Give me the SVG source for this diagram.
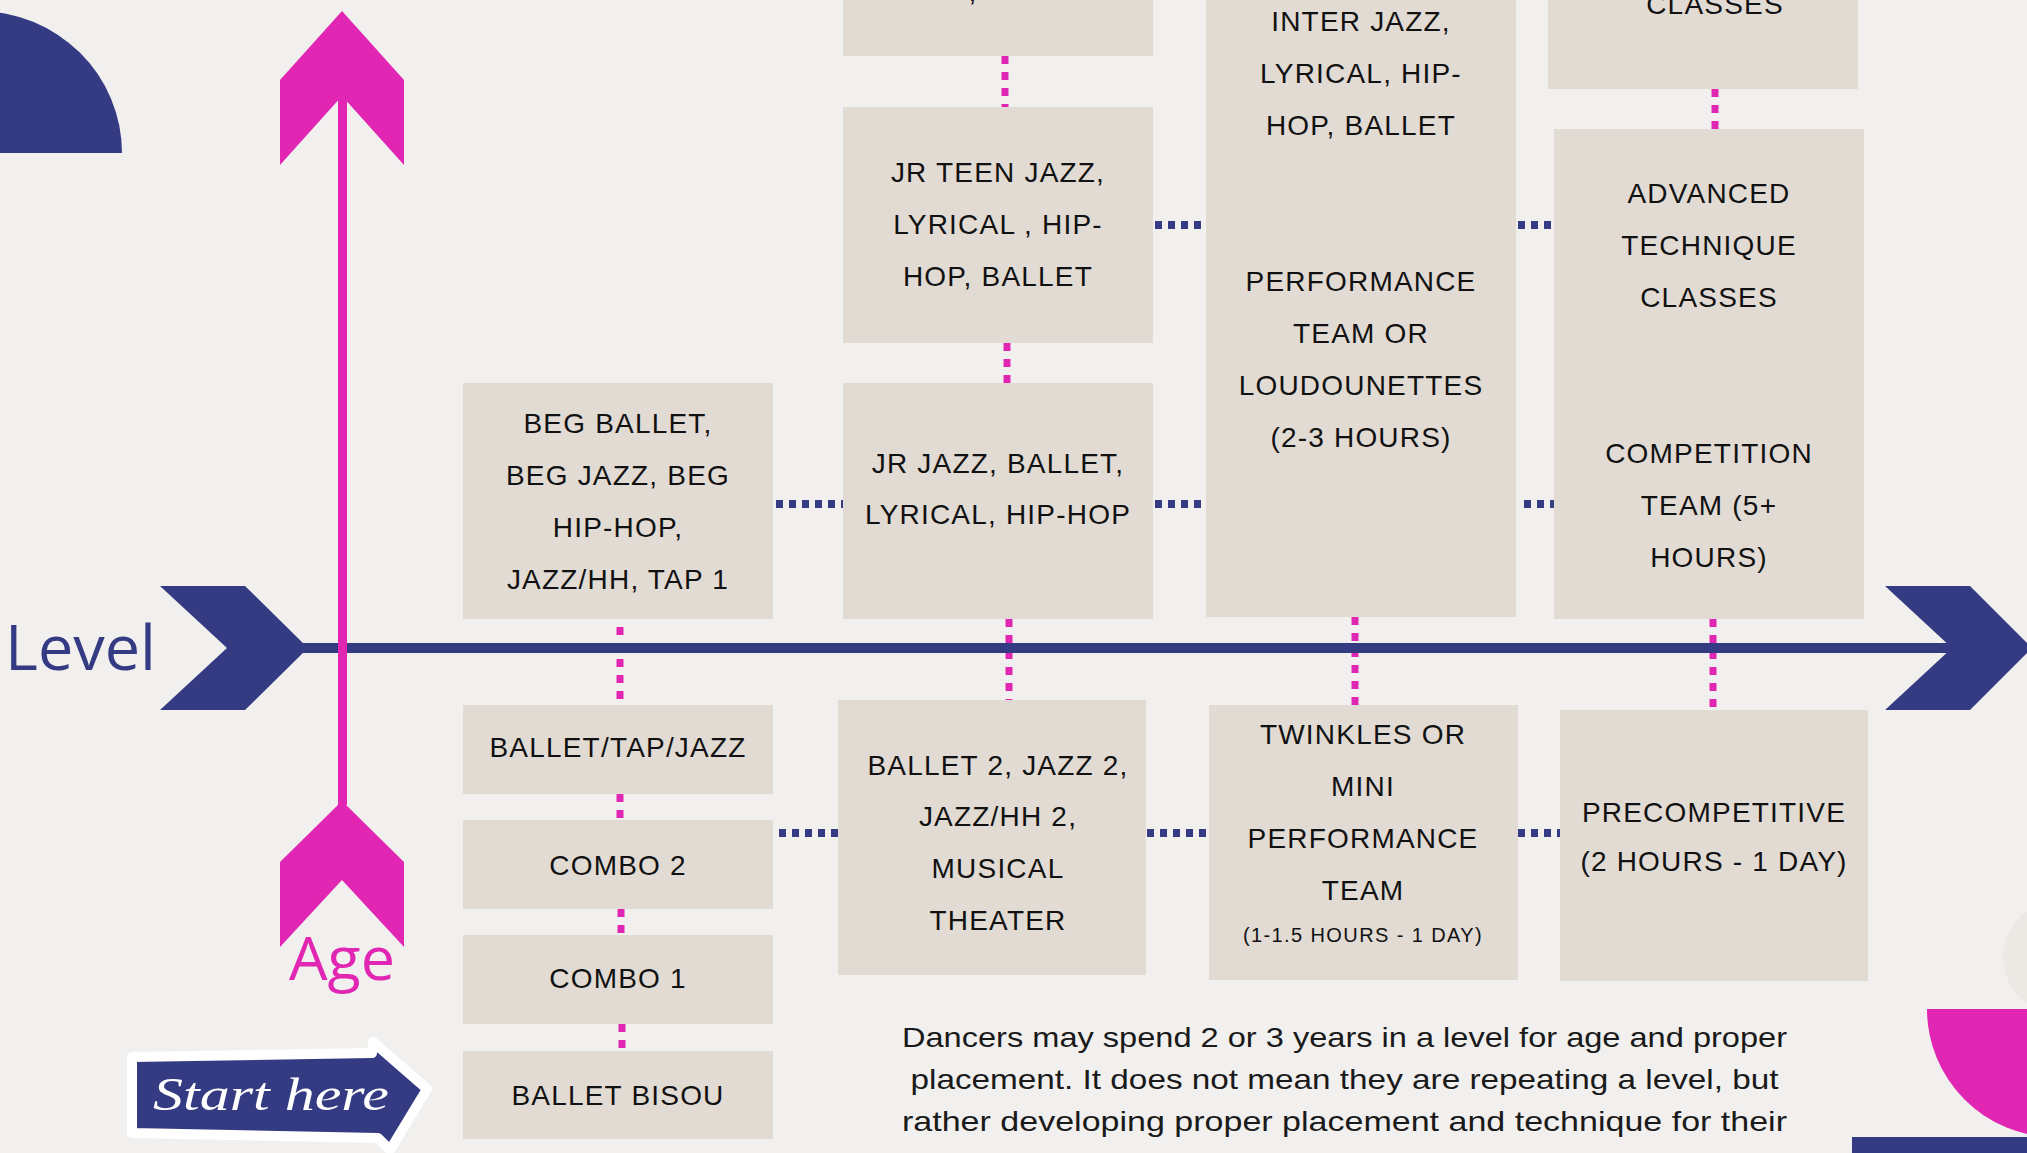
<svg xmlns="http://www.w3.org/2000/svg" width="2027" height="1153" viewBox="0 0 2027 1153">
<style>
.box{fill:#e1dbd4}
.t{font-family:"Liberation Sans",Arial,sans-serif;font-size:28px;letter-spacing:1.2px;fill:#111;text-anchor:middle}
.ts{font-family:"Liberation Sans",Arial,sans-serif;font-size:20px;letter-spacing:1.4px;fill:#111;text-anchor:middle}
.pk{stroke:#e126b3;stroke-width:7;stroke-dasharray:8 8;fill:none}
.nv{stroke:#343b83;stroke-width:8;stroke-dasharray:7 6;fill:none}
.para{font-family:"Liberation Sans",Arial,sans-serif;font-size:28px;fill:#1a1a1a;text-anchor:middle}
</style>
<rect x="0" y="0" width="2027" height="1153" fill="#f1f0ee"/>
<g id="decor">
<path d="M -166 153 A 144 142 0 0 1 122 153 Z" fill="#343b83"/>
<circle cx="2059" cy="957" r="56" fill="#ece8e4"/>
<path d="M 1927 1009 A 128 128 0 0 0 2183 1009 Z" fill="#e126b3"/>
<rect x="1852" y="1137" width="180" height="20" fill="#343b83"/>
</g>
<g id="connectors">
<line class="pk" x1="620" y1="611" x2="620" y2="705"/>
<line class="pk" x1="620" y1="794" x2="620" y2="820"/>
<line class="pk" x1="621" y1="909" x2="621" y2="935"/>
<line class="pk" x1="622" y1="1024" x2="622" y2="1051"/>
<line class="pk" x1="1005" y1="56" x2="1005" y2="107"/>
<line class="pk" x1="1007" y1="343" x2="1007" y2="383"/>
<line class="pk" x1="1009" y1="619" x2="1009" y2="700"/>
<line class="pk" x1="1355" y1="617" x2="1355" y2="705"/>
<line class="pk" x1="1715" y1="89" x2="1715" y2="129"/>
<line class="pk" x1="1713" y1="619" x2="1713" y2="710"/>
<line class="nv" x1="1155" y1="225" x2="1206" y2="225"/>
<line class="nv" x1="1518" y1="225" x2="1554" y2="225"/>
<line class="nv" x1="776" y1="504" x2="843" y2="504"/>
<line class="nv" x1="1155" y1="504" x2="1206" y2="504"/>
<line class="nv" x1="1524" y1="504" x2="1554" y2="504"/>
<line class="nv" x1="779" y1="833" x2="838" y2="833"/>
<line class="nv" x1="1147" y1="833" x2="1209" y2="833"/>
<line class="nv" x1="1518" y1="833" x2="1560" y2="833"/>
</g>
<g id="level-axis">
<line x1="300" y1="648" x2="1955" y2="648" stroke="#343b83" stroke-width="10"/>
<polygon points="160,586 245,586 308,648 245,710 160,710 227,648" fill="#343b83"/>
<polygon points="1885,586 1970,586 2032,648 1970,710 1885,710 1952,648" fill="#343b83"/>
<text x="5" y="670" font-family="'Open Sans','Noto Sans',sans-serif" font-size="63" fill="#343b83">Level</text>
</g>
<g id="age-axis">
<line x1="342.5" y1="90" x2="342.5" y2="805" stroke="#e126b3" stroke-width="9"/>
<polygon points="342,11 404,80 404,165 342,96 280,165 280,80" fill="#e126b3"/>
<polygon points="342,801 404,862 404,947 342,880 280,947 280,862" fill="#e126b3"/>
<text x="342" y="980" font-family="'Open Sans','Noto Sans',sans-serif" font-size="61" fill="#e126b3" text-anchor="middle">Age</text>
</g>
<g id="start-here">
<path d="M132,1057 L372,1053 L373,1042 L427,1089 L390,1150 L378,1138 L132,1133 Z" fill="#343b83" stroke="#ffffff" stroke-width="10" stroke-linejoin="round"/>
<text x="153" y="1110" font-family="'Liberation Serif','DejaVu Serif',serif" font-style="italic" font-size="46" fill="#ffffff" textLength="236" lengthAdjust="spacingAndGlyphs">Start here</text>
</g>
<g id="beg-ballet">
<rect class="box" x="463" y="383" width="310" height="236"/>
<text class="t" x="618" y="433">BEG BALLET,</text>
<text class="t" x="618" y="485">BEG JAZZ, BEG</text>
<text class="t" x="618" y="537">HIP-HOP,</text>
<text class="t" x="618" y="589">JAZZ/HH, TAP 1</text>
</g>
<g id="ballet-tap-jazz">
<rect class="box" x="463" y="705" width="310" height="89"/>
<text class="t" x="618" y="757">BALLET/TAP/JAZZ</text>
</g>
<g id="combo-2">
<rect class="box" x="463" y="820" width="310" height="89"/>
<text class="t" x="618" y="875">COMBO 2</text>
</g>
<g id="combo-1">
<rect class="box" x="463" y="935" width="310" height="89"/>
<text class="t" x="618" y="988">COMBO 1</text>
</g>
<g id="ballet-bisou">
<rect class="box" x="463" y="1051" width="310" height="88"/>
<text class="t" x="618" y="1105">BALLET BISOU</text>
</g>
<g id="col2-top">
<rect class="box" x="843" y="-5" width="310" height="61"/>
<text class="t" x="973" y="1">,</text>
</g>
<g id="jr-teen">
<rect class="box" x="843" y="107" width="310" height="236"/>
<text class="t" x="998" y="182">JR TEEN JAZZ,</text>
<text class="t" x="998" y="234">LYRICAL , HIP-</text>
<text class="t" x="998" y="286">HOP, BALLET</text>
</g>
<g id="jr-jazz">
<rect class="box" x="843" y="383" width="310" height="236"/>
<text class="t" x="998" y="473">JR JAZZ, BALLET,</text>
<text class="t" x="998" y="524">LYRICAL, HIP-HOP</text>
</g>
<g id="ballet-2">
<rect class="box" x="838" y="700" width="308" height="275"/>
<text class="t" x="998" y="775">BALLET 2, JAZZ 2,</text>
<text class="t" x="998" y="826">JAZZ/HH 2,</text>
<text class="t" x="998" y="878">MUSICAL</text>
<text class="t" x="998" y="930">THEATER</text>
</g>
<g id="inter-performance">
<rect class="box" x="1206" y="-5" width="310" height="622"/>
<text class="t" x="1361" y="31">INTER JAZZ,</text>
<text class="t" x="1361" y="83">LYRICAL, HIP-</text>
<text class="t" x="1361" y="135">HOP, BALLET</text>
<text class="t" x="1361" y="291">PERFORMANCE</text>
<text class="t" x="1361" y="343">TEAM OR</text>
<text class="t" x="1361" y="395">LOUDOUNETTES</text>
<text class="t" x="1361" y="447">(2-3 HOURS)</text>
</g>
<g id="twinkles">
<rect class="box" x="1209" y="705" width="309" height="275"/>
<text class="t" x="1363" y="744">TWINKLES OR</text>
<text class="t" x="1363" y="796">MINI</text>
<text class="t" x="1363" y="848">PERFORMANCE</text>
<text class="t" x="1363" y="900">TEAM</text>
<text class="ts" x="1363" y="942">(1-1.5 HOURS - 1 DAY)</text>
</g>
<g id="col4-top">
<rect class="box" x="1548" y="-5" width="310" height="94"/>
<text class="t" x="1715" y="14">CLASSES</text>
</g>
<g id="advanced-competition">
<rect class="box" x="1554" y="129" width="310" height="490"/>
<text class="t" x="1709" y="203">ADVANCED</text>
<text class="t" x="1709" y="255">TECHNIQUE</text>
<text class="t" x="1709" y="307">CLASSES</text>
<text class="t" x="1709" y="463">COMPETITION</text>
<text class="t" x="1709" y="515">TEAM (5+</text>
<text class="t" x="1709" y="567">HOURS)</text>
</g>
<g id="precompetitive">
<rect class="box" x="1560" y="710" width="308" height="271"/>
<text class="t" x="1714" y="822">PRECOMPETITIVE</text>
<text class="t" x="1714" y="871">(2 HOURS - 1 DAY)</text>
</g>
<g id="note">
<text class="para" x="1344.5" y="1047" textLength="885" lengthAdjust="spacingAndGlyphs">Dancers may spend 2 or 3 years in a level for age and proper</text>
<text class="para" x="1344.5" y="1089" textLength="868" lengthAdjust="spacingAndGlyphs">placement. It does not mean they are repeating a level, but</text>
<text class="para" x="1344.5" y="1131" textLength="885" lengthAdjust="spacingAndGlyphs">rather developing proper placement and technique for their</text>
</g>
</svg>
